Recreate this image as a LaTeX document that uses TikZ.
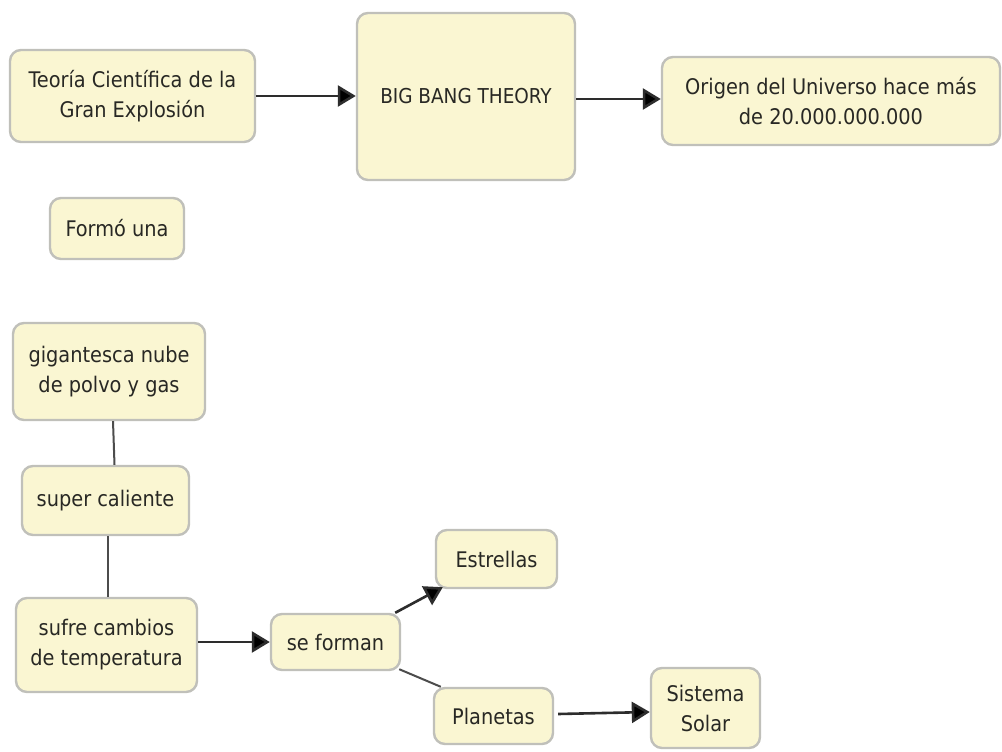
\documentclass[tikz,border=0pt]{standalone}
\usepackage{fontspec}
\setmainfont{DejaVu Sans Condensed}
\usetikzlibrary{arrows.meta,calc}
\definecolor{boxfill}{RGB}{250,246,210}
\definecolor{boxline}{RGB}{192,192,186}
\definecolor{txt}{RGB}{40,40,36}
\definecolor{lnk}{RGB}{45,45,45}
\tikzset{
  box/.style={draw=boxline, line width=2.4pt, fill=boxfill, rounded corners=11pt,
    align=center, inner sep=0pt, text=txt, font=\fontsize{21.5}{30}\selectfont},
  arr/.style={draw=lnk, line width=2.6pt, -{Triangle[length=18pt,width=21pt,fill=black]}},
  lnkline/.style={draw=lnk!85, line width=2pt}
}
\begin{document}
\begin{tikzpicture}[x=1pt,y=-1pt]
\useasboundingbox[fill=white] (0,0) rectangle (1002,752);
\node[box, minimum width=245pt, minimum height=92pt] (teo) at (132.5,96) {Teoría Científica de la\\Gran Explosión};
\node[box, minimum width=218pt, minimum height=167pt, font=\fontsize{20.5}{30}\selectfont] (bb) at (466,96.5) {BIG BANG THEORY};
\node[box, minimum width=338pt, minimum height=88pt] (ori) at (831,101) {Origen del Universo hace más\\de 20.000.000.000};
\node[box, minimum width=134pt, minimum height=61pt] (for) at (117,228.5) {Formó una};
\node[box, minimum width=192pt, minimum height=97pt] (gig) at (109,371.5) {gigantesca nube\\de polvo y gas};
\node[box, minimum width=167pt, minimum height=69pt] (sup) at (105.5,500.5) {super caliente};
\node[box, minimum width=181pt, minimum height=94pt] (suf) at (106.5,645) {sufre cambios\\de temperatura};
\node[box, minimum width=129pt, minimum height=56pt] (sef) at (335.5,642) {se forman};
\node[box, minimum width=121pt, minimum height=58pt] (est) at (496.5,559) {Estrellas};
\node[box, minimum width=119pt, minimum height=56pt] (pla) at (493.5,716) {Planetas};
\node[box, minimum width=109pt, minimum height=80pt] (sis) at (705.5,708) {Sistema\\Solar};
\draw[arr] (teo.east) -- (bb.west |- teo.east);
\draw[arr] (bb.east |- 0,99) -- (ori.west |- 0,99);
\draw[lnkline] ($(gig.south)+(4,0)$) -- ($(sup.north)+(9,0)$);
\draw[lnkline] ($(sup.south)+(2,0)$) -- ($(suf.north)+(1,0)$);
\draw[arr] (suf.east |- sef.west) -- (sef.west);
\draw[arr] ($(sef.north east)+(-6,0)$) -- ($(est.south west)+(8,-2)$);
\draw[lnkline] ($(sef.south east)+(-2,-2)$) -- ($(pla.north west)+(8,0)$);
\draw[arr] ($(pla.east)+(4,-2)$) -- (sis.west |- 0,712);
\end{tikzpicture}
\end{document}
